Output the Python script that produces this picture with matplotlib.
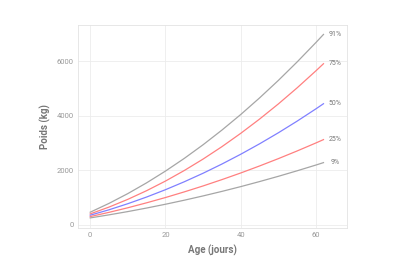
import matplotlib
matplotlib.use("Agg")
import matplotlib.pyplot as plt

# days
age = [0, 5, 10, 15, 20, 25, 30, 35, 40, 45, 50, 55, 60, 62]

# weight percentiles (kg)
p91 = [465, 789, 1148, 1543, 1973, 2438, 2939, 3476, 4047, 4655, 5297, 5976, 6689, 6984]
p75 = [403, 653, 937, 1255, 1607, 1994, 2414, 2868, 3357, 3879, 4435, 5026, 5651, 5910]
p50 = [355, 554, 777, 1022, 1290, 1581, 1894, 2231, 2590, 2972, 3377, 3805, 4256, 4443]
p25 = [304, 460, 628, 810, 1003, 1210, 1428, 1660, 1903, 2160, 2429, 2711, 3005, 3127]
p09 = [256, 368, 488, 618, 757, 905, 1062, 1228, 1403, 1588, 1781, 1984, 2195, 2283]

labels = ["91%", "75%", "50%", "25%", "9%"]
series = [p91, p75, p50, p25, p09]
colors = ["#a6a6a6", "#ff8080", "#8080ff", "#ff8080", "#a6a6a6"]

plt.rcParams['font.family'] = ['Roboto', 'DejaVu Sans']

fig = plt.figure(figsize=(4, 2.7), dpi=100)
ax = fig.add_axes([0.195, 0.156, 0.6725, 0.751])

for vals, col, lab in zip(series, colors, labels):
    ax.plot(age, vals, color=col, lw=0.9, zorder=3)
    ax.text(65, vals[-1], lab, fontsize=5, color="#777777",
            ha="center", va="center")

ax.set_xlim(-3.25, 68.25)
ax.set_ylim(-110, 7326)
ax.set_xticks([0, 20, 40, 60])
ax.set_yticks([0, 2000, 4000, 6000])
ax.grid(True, color="#ececec", lw=0.6, zorder=0)
ax.set_axisbelow(True)
for s in ax.spines.values():
    s.set_color("#e3e3e3")
    s.set_linewidth(0.6)
ax.tick_params(length=0, labelsize=5.5, labelcolor="#999999", pad=3)

ax.set_xlabel("Age (jours)", fontsize=7, color="#777777", fontweight="bold", labelpad=5)
ax.set_ylabel("Poids (kg)", fontsize=7, color="#777777", fontweight="bold", labelpad=4)

fig.savefig("out.png", dpi=100, facecolor="white")
